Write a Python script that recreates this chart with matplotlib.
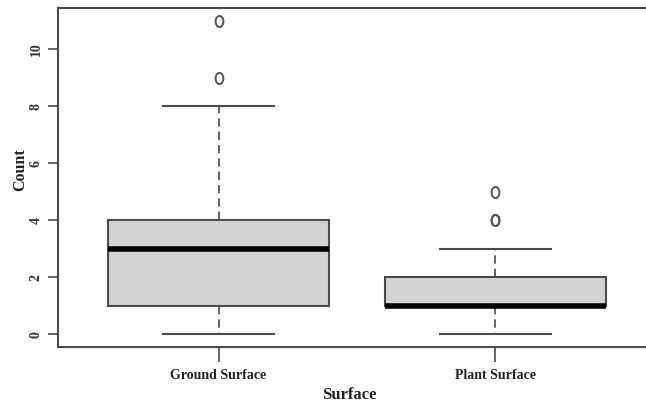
import matplotlib
matplotlib.use("Agg")
import matplotlib.pyplot as plt
from matplotlib.path import Path
import numpy as np

# summary values
groups = ["Ground Surface", "Plant Surface"]
whisker_low = [0, 0]
q1 = [1, 1]
median = [3, 1]
q3 = [4, 2]
whisker_high = [8, 3]
outliers = [[9, 11], [4, 4, 5]]
y_ticks = [0, 2, 4, 6, 8, 10]

plt.rcParams["font.family"] = ["Liberation Serif", "DejaVu Serif"]
plt.rcParams["font.weight"] = "bold"

fig = plt.figure(figsize=(6.46, 4.04), dpi=100)
W, H = 646, 404
# axes box runs past the right edge of the picture, as in the reference
ax = fig.add_axes([58 / W, (H - 347) / H, 598 / W, 339 / H])

stats = []
for i, name in enumerate(groups):
    stats.append({
        "label": name,
        "whislo": whisker_low[i],
        "q1": q1[i],
        "med": median[i],
        "q3": q3[i],
        "whishi": whisker_high[i],
        "fliers": outliers[i],
    })

# tall open ellipse like R's pch=1 at this resolution
circ = Path.unit_circle()
ell = Path(circ.vertices * np.array([0.7, 1.0]), circ.codes)

edge = "#4a4a4a"
ax.bxp(
    stats,
    positions=[1, 2],
    widths=0.8,
    patch_artist=True,
    showfliers=True,
    boxprops=dict(facecolor="#d3d3d3", edgecolor=edge, linewidth=1.5),
    medianprops=dict(color="black", linewidth=4, solid_capstyle="butt"),
    whiskerprops=dict(color=edge, linewidth=1.2, linestyle=(0, (5, 3))),
    capprops=dict(color=edge, linewidth=1.5),
    capwidths=0.4,
    flierprops=dict(marker=ell, markersize=8, markerfacecolor="none",
                    markeredgecolor="#555555", markeredgewidth=1.4),
)

ax.set_xlim(0.42, 2.58)
ax.set_ylim(-0.44, 11.44)

ax.set_yticks(y_ticks)
ax.set_yticklabels([str(v) for v in y_ticks], rotation=90, va="center",
                   fontsize=10, fontweight="bold", color="#333333")
ax.set_xticks([1, 2])
ax.set_xticklabels(groups, fontsize=10, fontweight="bold", color="#222222")

ax.tick_params(axis="y", length=7, width=1.2, color=edge, pad=4)
ax.tick_params(axis="x", length=11, width=1.2, color=edge, pad=5)

for side in ["top", "bottom", "left"]:
    ax.spines[side].set_color(edge)
    ax.spines[side].set_linewidth(1.5)
ax.spines["right"].set_visible(False)

fig.text(20 / W, 1 - 170 / H, "Count", rotation=90, ha="center", va="center",
         fontsize=11.5, fontweight="bold", color="#222222")
fig.text(349 / W, 1 - 395 / H, "Surface", ha="center", va="center",
         fontsize=12, fontweight="bold", color="#222222")

fig.savefig("out.png", dpi=100)
